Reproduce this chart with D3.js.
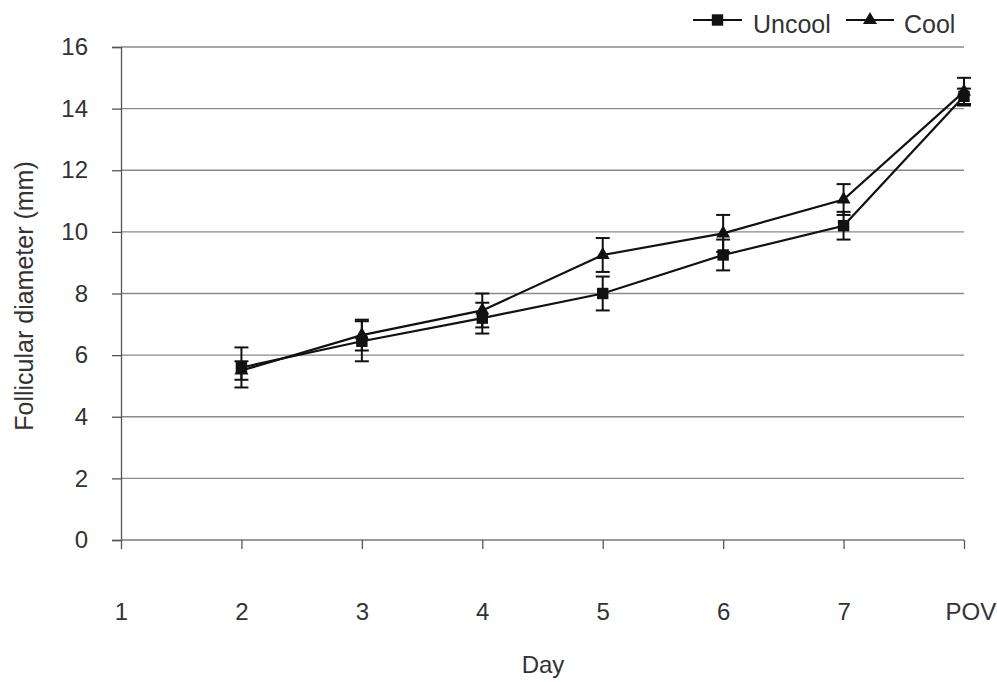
<!DOCTYPE html>
<html>
<head>
<meta charset="utf-8">
<script src="https://cdn.jsdelivr.net/npm/d3@7"></script>
<style>
  body { margin: 0; background: #fff; overflow: hidden; }
  svg text { font-family: "Liberation Sans", Arial, sans-serif; fill: #333; }
</style>
</head>
<body>
<div id="chart"></div>
<script>
// Data
var days = ["1", "2", "3", "4", "5", "6", "7", "POV"];
var dataDays = ["2", "3", "4", "5", "6", "7", "POV"];
var uncool = [5.6, 6.45, 7.2, 8.0, 9.25, 10.2, 14.4];
var uncoolErr = [0.65, 0.65, 0.5, 0.55, 0.5, 0.45, 0.25];
var cool = [5.5, 6.65, 7.45, 9.25, 9.95, 11.05, 14.55];
var coolErr = [0.3, 0.5, 0.55, 0.55, 0.6, 0.5, 0.45];
var yTicks = [0, 2, 4, 6, 8, 10, 12, 14, 16];

var width = 997, height = 682;

var svg = d3.select("#chart")
    .append("svg")
    .attr("width", width)
    .attr("height", height);

var x = d3.scalePoint()
    .domain(days)
    .range([121, 964]);

var y = d3.scaleLinear()
    .domain([0, 16])
    .range([540, 47]);

// Gridlines
svg.append("g")
    .selectAll("line")
    .data(yTicks.filter(function(d) { return d > 0; }))
    .enter()
    .append("line")
    .attr("x1", 121)
    .attr("x2", 964)
    .attr("y1", function(d) { return y(d); })
    .attr("y2", function(d) { return y(d); })
    .attr("stroke", "#8a8a8a")
    .attr("stroke-width", 1.3);

// Y axis
var yAxis = svg.append("g")
    .attr("transform", "translate(121,0)")
    .call(d3.axisLeft(y).tickValues(yTicks).tickSize(9).tickPadding(24).tickFormat(d3.format("d")));
yAxis.selectAll("path, line").attr("stroke", "#555").attr("stroke-width", 1.3);
yAxis.selectAll("text").style("font-size", "24px").style("fill", "#333");

// X axis
var xAxis = svg.append("g")
    .attr("transform", "translate(0,540)")
    .call(d3.axisBottom(x).tickSizeInner(9).tickSizeOuter(0).tickPadding(54));
xAxis.select("path").attr("d", "M121,0H964").attr("stroke", "#777").attr("stroke-width", 1.5);
xAxis.selectAll("line").attr("stroke", "#555").attr("stroke-width", 1.3);
xAxis.selectAll("text").style("font-size", "24px").style("fill", "#333");
// the last label sits a little to the right, against the edge
xAxis.selectAll(".tick text")
    .filter(function(d) { return d === "POV"; })
    .attr("text-anchor", "start")
    .attr("x", -19);

// Axis titles
svg.append("text")
    .attr("transform", "translate(33,296) rotate(-90)")
    .attr("text-anchor", "middle")
    .style("font-size", "25px")
    .text("Follicular diameter (mm)");

svg.append("text")
    .attr("x", 543)
    .attr("y", 673)
    .attr("text-anchor", "middle")
    .style("font-size", "24px")
    .text("Day");

var line = d3.line()
    .x(function(d) { return x(d.day); })
    .y(function(d) { return y(d.v); });

var series = [
    { name: "Uncool", vals: uncool, errs: uncoolErr, marker: d3.symbolSquare, size: 130 },
    { name: "Cool", vals: cool, errs: coolErr, marker: d3.symbolTriangle, size: 85 }
];

series.forEach(function(s) {
    var pts = dataDays.map(function(d, i) { return { day: d, v: s.vals[i], e: s.errs[i] }; });
    var g = svg.append("g");

    // error bars
    var eb = g.selectAll(".eb")
        .data(pts)
        .enter()
        .append("g")
        .attr("stroke", "#111")
        .attr("stroke-width", 2);
    eb.append("line")
        .attr("x1", function(d) { return x(d.day); })
        .attr("x2", function(d) { return x(d.day); })
        .attr("y1", function(d) { return y(d.v + d.e); })
        .attr("y2", function(d) { return y(d.v - d.e); });
    eb.append("line")
        .attr("x1", function(d) { return x(d.day) - 7; })
        .attr("x2", function(d) { return x(d.day) + 7; })
        .attr("y1", function(d) { return y(d.v + d.e); })
        .attr("y2", function(d) { return y(d.v + d.e); });
    eb.append("line")
        .attr("x1", function(d) { return x(d.day) - 7; })
        .attr("x2", function(d) { return x(d.day) + 7; })
        .attr("y1", function(d) { return y(d.v - d.e); })
        .attr("y2", function(d) { return y(d.v - d.e); });

    g.append("path")
        .datum(pts)
        .attr("d", line)
        .attr("fill", "none")
        .attr("stroke", "#111")
        .attr("stroke-width", 2.2);

    g.selectAll(".mk")
        .data(pts)
        .enter()
        .append("path")
        .attr("d", d3.symbol().type(s.marker).size(s.size))
        .attr("transform", function(d) { return "translate(" + x(d.day) + "," + y(d.v) + ")"; })
        .attr("fill", "#111");
});

// Legend
var legend = [
    { name: "Uncool", marker: d3.symbolSquare, size: 130, x1: 693, x2: 742, tx: 753 },
    { name: "Cool", marker: d3.symbolTriangle, size: 85, x1: 846, x2: 894, tx: 904 }
];
legend.forEach(function(l) {
    svg.append("line")
        .attr("x1", l.x1).attr("x2", l.x2)
        .attr("y1", 20).attr("y2", 20)
        .attr("stroke", "#111").attr("stroke-width", 2);
    svg.append("path")
        .attr("d", d3.symbol().type(l.marker).size(l.size))
        .attr("transform", "translate(" + ((l.x1 + l.x2) / 2) + ",20)")
        .attr("fill", "#111");
    svg.append("text")
        .attr("x", l.tx)
        .attr("y", 33)
        .style("font-size", "25px")
        .text(l.name);
});
</script>
</body>
</html>
